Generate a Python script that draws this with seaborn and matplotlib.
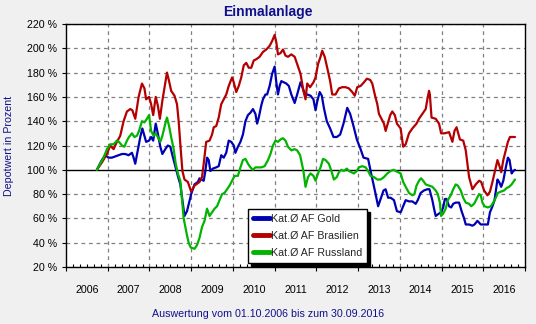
import numpy as np
import pandas as pd
import matplotlib
matplotlib.use("Agg")
import matplotlib.pyplot as plt
from matplotlib.lines import Line2D
import seaborn as sns

# ---------------- data (decimal year, percent) ----------------
gold_t = [2006.74, 2006.86, 2006.94, 2007.02, 2007.10, 2007.18, 2007.26, 2007.34, 2007.42, 2007.50,
          2007.58, 2007.62, 2007.66, 2007.71, 2007.78, 2007.83, 2007.88, 2007.92, 2007.99, 2008.04,
          2008.09, 2008.15, 2008.20, 2008.26, 2008.31, 2008.38, 2008.44, 2008.50, 2008.55, 2008.62,
          2008.68, 2008.74, 2008.79, 2008.84, 2008.90, 2008.95, 2009.00,
          2009.08, 2009.16, 2009.20, 2009.24, 2009.30, 2009.34, 2009.38, 2009.42, 2009.46, 2009.52,
          2009.60, 2009.66, 2009.72, 2009.78, 2009.84, 2009.90, 2009.96, 2010.02, 2010.06, 2010.12,
          2010.18, 2010.24, 2010.30, 2010.36, 2010.42, 2010.48, 2010.54, 2010.58, 2010.62, 2010.68,
          2010.72, 2010.78, 2010.82, 2010.88, 2010.94, 2011.00, 2011.04, 2011.08, 2011.12, 2011.16,
          2011.22, 2011.28, 2011.34, 2011.40, 2011.48,
          2011.54, 2011.62, 2011.74, 2011.78, 2011.86, 2011.93, 2011.98, 2012.02, 2012.08, 2012.13,
          2012.18, 2012.25, 2012.33, 2012.41, 2012.49, 2012.57, 2012.65, 2012.74, 2012.81, 2012.89,
          2012.97, 2013.06, 2013.13, 2013.24, 2013.30, 2013.37, 2013.42, 2013.48, 2013.54, 2013.61,
          2013.66, 2013.72, 2013.78, 2013.86, 2013.93,
          2014.02, 2014.08, 2014.14, 2014.22, 2014.30, 2014.38, 2014.43, 2014.50, 2014.58, 2014.66,
          2014.71, 2014.78, 2014.82, 2014.86, 2014.94, 2014.99, 2015.04, 2015.08, 2015.12, 2015.18,
          2015.23, 2015.28, 2015.34, 2015.42, 2015.48, 2015.54, 2015.58, 2015.66, 2015.74, 2015.79,
          2015.86, 2015.94, 2016.02, 2016.11, 2016.16, 2016.22, 2016.27, 2016.34, 2016.38, 2016.43,
          2016.48, 2016.54, 2016.59, 2016.63, 2016.68, 2016.72, 2016.76]
gold_v = [100, 108, 112, 110, 110, 111, 112, 113, 113, 112,
          114, 110, 105, 114, 127, 134, 128, 123, 124, 127,
          124, 138, 130, 119, 113, 117, 120, 119, 112, 103,
          95, 88, 75, 62, 66, 73, 80,
          88, 90, 93, 92, 91, 99, 110, 108, 99, 101,
          102, 103, 112, 110, 114, 124, 123, 120, 114, 119,
          123, 129, 140, 145, 147, 150, 146, 138, 143, 153,
          158, 162, 162, 169, 179, 185, 172, 162, 169, 173,
          172, 171, 169, 162, 155,
          162, 172, 161, 162, 161, 158, 149, 156, 164, 161,
          151, 140, 134, 127, 127, 129, 138, 151, 146, 136,
          125, 117, 110, 109, 99, 88, 80, 70, 76, 83,
          84, 77, 77, 75, 66,
          65, 70, 75, 74, 74, 72, 75, 81, 83, 84,
          84, 75, 68, 62, 64, 65, 69, 76, 76, 70,
          69, 72, 73, 73, 66, 60, 55, 55, 54, 55,
          58, 55, 55, 55, 65, 70, 75, 92, 90, 86,
          91, 102, 110, 108, 97, 99, 100]

bras_t = [2006.74, 2006.86, 2006.98, 2007.06, 2007.14, 2007.22, 2007.30, 2007.38, 2007.46, 2007.54,
          2007.59, 2007.66, 2007.74, 2007.82, 2007.88, 2007.92, 2007.99, 2008.04, 2008.09, 2008.15,
          2008.20, 2008.25, 2008.31, 2008.38, 2008.42, 2008.47, 2008.52, 2008.60, 2008.66, 2008.70,
          2008.74, 2008.79, 2008.84, 2008.92, 2009.00,
          2009.08, 2009.20, 2009.26, 2009.30, 2009.36, 2009.44, 2009.50, 2009.54, 2009.60, 2009.66,
          2009.72, 2009.78, 2009.84, 2009.90, 2009.98, 2010.02, 2010.08, 2010.14, 2010.20, 2010.26,
          2010.32, 2010.38, 2010.44, 2010.50, 2010.56, 2010.64, 2010.72, 2010.80, 2010.88, 2010.94,
          2011.00, 2011.04, 2011.08, 2011.14, 2011.20, 2011.26, 2011.32, 2011.40, 2011.48,
          2011.54, 2011.62, 2011.69, 2011.74, 2011.78, 2011.85, 2011.93, 2011.98, 2012.04, 2012.10,
          2012.14, 2012.20, 2012.26, 2012.33, 2012.38, 2012.46, 2012.54, 2012.62, 2012.70, 2012.78,
          2012.86, 2012.92, 2012.98, 2013.06, 2013.14, 2013.21, 2013.29, 2013.34, 2013.40, 2013.46,
          2013.50, 2013.56, 2013.62, 2013.66, 2013.72, 2013.77, 2013.82, 2013.88, 2013.93,
          2014.02, 2014.08, 2014.14, 2014.22, 2014.30, 2014.40, 2014.46, 2014.54, 2014.62, 2014.66,
          2014.70, 2014.72, 2014.76, 2014.86, 2014.94, 2014.99, 2015.07, 2015.18, 2015.26, 2015.31,
          2015.36, 2015.44, 2015.52, 2015.58, 2015.62, 2015.66, 2015.74, 2015.82, 2015.90, 2015.95,
          2016.02, 2016.10, 2016.16, 2016.22, 2016.28, 2016.34, 2016.38, 2016.43, 2016.48, 2016.54,
          2016.59, 2016.64, 2016.76]
bras_v = [100, 106, 113, 120, 117, 123, 128, 140, 148, 150,
          149, 142, 160, 171, 167, 158, 160, 154, 145, 160,
          153, 142, 157, 172, 180, 173, 165, 161, 154, 140,
          121, 99, 92, 90, 82,
          87, 90, 94, 105, 123, 124, 129, 135, 136, 143,
          154, 158, 162, 169, 176, 172, 164, 169, 176, 186,
          188, 184, 184, 190, 191, 193, 197, 199, 202, 206,
          211, 205, 195, 196, 199, 194, 193, 195, 193,
          187, 179, 165, 158, 171, 168, 172, 176, 187, 193,
          198, 193, 184, 173, 162, 162, 167, 168, 168, 167,
          164, 161, 168, 169, 172, 175, 174, 171, 162, 154,
          146, 142, 138, 132, 139, 145, 148, 145, 138,
          134, 119, 121, 130, 134, 138, 142, 146, 150, 158,
          165, 162, 143, 142, 138, 130, 130, 131, 123, 132,
          135, 125, 124, 116, 105, 94, 84, 88, 91, 90,
          83, 79, 82, 90, 99, 108, 104, 98, 108, 116,
          123, 127, 127]

russ_t = [2006.74, 2006.82, 2006.90, 2006.98, 2007.06, 2007.14, 2007.22, 2007.27, 2007.34, 2007.40,
          2007.46, 2007.51, 2007.58, 2007.64, 2007.70, 2007.75, 2007.82, 2007.88, 2007.94, 2007.99,
          2008.04, 2008.10, 2008.15, 2008.20, 2008.26, 2008.31, 2008.38, 2008.42, 2008.47, 2008.52,
          2008.58, 2008.63, 2008.68, 2008.74, 2008.78, 2008.82, 2008.86, 2008.90, 2008.94, 2008.99,
          2009.08, 2009.14, 2009.20, 2009.26, 2009.32, 2009.38, 2009.44, 2009.50, 2009.56, 2009.62,
          2009.68, 2009.74, 2009.80, 2009.86, 2009.92, 2009.98, 2010.04, 2010.12, 2010.18, 2010.24,
          2010.30, 2010.36, 2010.42, 2010.48, 2010.54, 2010.62, 2010.68, 2010.76, 2010.84, 2010.90,
          2010.96, 2011.02, 2011.08, 2011.14, 2011.20, 2011.26, 2011.32, 2011.40, 2011.48,
          2011.54, 2011.61, 2011.69, 2011.74, 2011.80, 2011.86, 2011.93, 2011.98, 2012.04, 2012.10,
          2012.16, 2012.22, 2012.30, 2012.36, 2012.42, 2012.49, 2012.54, 2012.60, 2012.66, 2012.73,
          2012.78, 2012.84, 2012.90, 2012.97, 2013.02, 2013.10, 2013.18, 2013.24, 2013.30, 2013.38,
          2013.46, 2013.54, 2013.62, 2013.70, 2013.78, 2013.85, 2013.90,
          2014.02, 2014.08, 2014.14, 2014.22, 2014.30, 2014.35, 2014.40, 2014.46, 2014.51, 2014.56,
          2014.62, 2014.70, 2014.78, 2014.86, 2014.91, 2014.96, 2014.99, 2015.04, 2015.10, 2015.15,
          2015.22, 2015.28, 2015.34, 2015.39, 2015.46, 2015.52, 2015.58, 2015.66, 2015.71, 2015.78,
          2015.84, 2015.90, 2015.94, 2015.98, 2016.03, 2016.11, 2016.18, 2016.24, 2016.30, 2016.35,
          2016.42, 2016.50, 2016.56, 2016.62, 2016.68, 2016.76]
russ_v = [100, 105, 110, 117, 121, 121, 124, 123, 120, 119,
          124, 127, 130, 127, 128, 132, 140, 139, 142, 145,
          132, 128, 130, 127, 123, 128, 138, 143, 136, 127,
          117, 105, 97, 91, 75, 60, 53, 46, 40, 36,
          35, 38, 44, 53, 58, 68, 62, 65, 68, 70,
          75, 80, 81, 84, 87, 91, 95, 95, 102, 108,
          109, 105, 102, 100, 102, 102, 102, 103, 108, 113,
          120, 124, 123, 125, 126, 124, 119, 116, 117,
          116, 112, 99, 86, 94, 97, 95, 91, 97, 102,
          109, 108, 105, 99, 92, 94, 98, 100, 99, 101,
          99, 98, 97, 99, 102, 103, 102, 99, 95, 94,
          92, 92, 94, 97, 99, 100, 99,
          97, 90, 86, 81, 79, 80, 87, 91, 93, 91,
          88, 87, 86, 83, 80, 73, 62, 64, 68, 75,
          79, 84, 88, 87, 83, 77, 73, 72, 70, 72,
          76, 80, 79, 73, 70, 69, 70, 73, 77, 81,
          82, 83, 85, 86, 88, 92]

series_names = ["Kat.Ø AF Gold", "Kat.Ø AF Brasilien", "Kat.Ø AF Russland"]
series_colors = ["#0000b4", "#b40000", "#00b400"]
y_ticks = [20, 40, 60, 80, 100, 120, 140, 160, 180, 200, 220]
years = list(range(2006, 2017))

title_text = "Einmalanlage"
ylabel_text = "Depotwert in Prozent"
footer_text = "Auswertung vom 01.10.2006 bis zum 30.09.2016"

df = pd.concat([
    pd.DataFrame({"t": gold_t, "v": gold_v, "s": series_names[0]}),
    pd.DataFrame({"t": bras_t, "v": bras_v, "s": series_names[1]}),
    pd.DataFrame({"t": russ_t, "v": russ_v, "s": series_names[2]}),
], ignore_index=True)

# ---------------- style ----------------
sns.set_style("white")
plt.rcParams["font.family"] = ["Liberation Sans", "DejaVu Sans"]
navy = "#10108c"
bg = "#f0f0f0"

fig = plt.figure(figsize=(5.36, 3.24), dpi=100, facecolor=bg)
ax = fig.add_axes([66 / 536, 1 - 267 / 324, 459 / 536, 243 / 324])
ax.set_facecolor("white")

# grid
for yv in y_ticks:
    if yv == 100:
        ax.axhline(yv, color="black", lw=1.0, zorder=1)
    else:
        ax.axhline(yv, color="#808080", lw=0.9, ls=(0, (3, 3)), zorder=1)
for yr in years[1:]:
    ax.axvline(yr, color="#808080", lw=0.9, ls=(0, (3, 3)), zorder=1)

sns.lineplot(data=df, x="t", y="v", hue="s", palette=dict(zip(series_names, series_colors)),
             hue_order=series_names, estimator=None, sort=False, lw=1.6, legend=False, ax=ax, zorder=3)

ax.set_xlim(2006, 2017)
ax.set_ylim(20, 220)

for sp in ax.spines.values():
    sp.set_color("black")
    sp.set_linewidth(1.0)
    sp.set_visible(True)

ax.set_yticks(y_ticks)
ax.set_yticklabels([f"{v} %" for v in y_ticks])
ax.tick_params(axis="y", which="major", direction="out", length=3, width=0.8, color="black",
               pad=3.5, labelsize=7.7, labelcolor="black", left=True)

ax.set_xticks(years + [2017])
ax.set_xticklabels([])
ax.set_xticks(np.arange(2006, 2017, 1 / 6), minor=True)
ax.tick_params(axis="x", which="major", direction="out", length=3, width=0.8, color="black", bottom=True)
ax.tick_params(axis="x", which="minor", direction="in", length=2.5, width=0.8, color="black", bottom=True)

sec = ax.secondary_xaxis("bottom")
sec.set_xticks([y + 0.5 for y in years])
sec.set_xticklabels([str(y) for y in years])
sec.tick_params(length=0, pad=13, labelsize=7.7, labelcolor="black")
sec.spines["bottom"].set_visible(False)

ax.set_xlabel("")
ax.set_ylabel(ylabel_text, color=navy, fontsize=7.7)
ax.yaxis.set_label_coords(-0.113, 0.5)

fig.text(0.5, 1 - 12 / 324, title_text, ha="center", va="center", fontsize=10,
         fontweight="bold", color=navy)
fig.text(0.5, 1 - 314 / 324, footer_text, ha="center", va="center", fontsize=7.7, color=navy)

handles = [Line2D([0], [0], color=c, lw=3.5) for c in series_colors]
leg = ax.legend(handles, series_names, loc="lower left", bbox_to_anchor=(0.3965, 0.0165),
                fontsize=7.7, frameon=True, fancybox=False, framealpha=1, edgecolor="black",
                borderpad=0.45, labelspacing=0.68, handlelength=1.6, handletextpad=0.1,
                borderaxespad=0, shadow={"color": "black", "alpha": 1})
leg.get_frame().set_linewidth(1.0)
leg.set_zorder(5)

fig.savefig("out.png", dpi=100, facecolor=bg)
